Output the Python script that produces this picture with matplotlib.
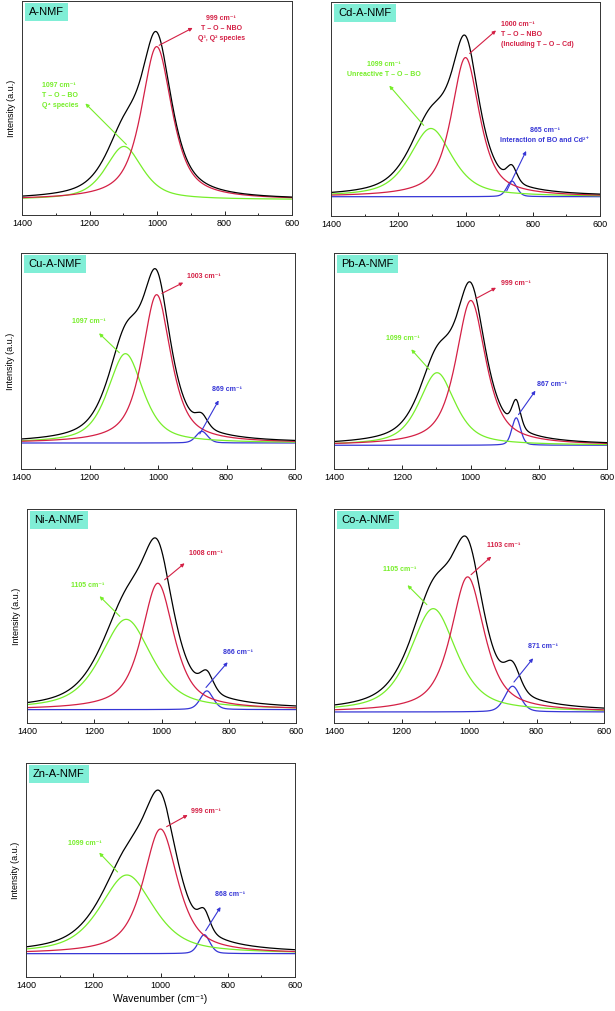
import matplotlib.pyplot as plt
import numpy as np

plt.rcParams['font.family'] = ['Liberation Sans', 'DejaVu Sans']

names = ["A-NMF", "Cd-A-NMF", "Cu-A-NMF", "Pb-A-NMF", "Ni-A-NMF", "Co-A-NMF", "Zn-A-NMF"]

# fitted bands: centre (cm-1), height (a.u.), FWHM (cm-1)
red_pos = [1001, 1000, 1004, 999, 1011, 1004, 1000]
red_amp = [4.60, 4.18, 4.45, 4.33, 3.78, 4.04, 3.74]
red_fwhm = [108, 100, 100, 105, 115, 118, 122]

green_pos = [1098, 1103, 1095, 1098, 1105, 1106, 1100]
green_amp = [1.60, 2.05, 2.68, 2.17, 2.70, 3.09, 2.36]
green_fwhm = [130, 150, 122, 125, 180, 162, 190]

blue_pos = [865, 862, 872, 866, 865, 871, 870]
blue_amp = [0.0, 0.47, 0.35, 0.82, 0.56, 0.77, 0.57]
blue_fwhm = [40, 35, 40, 30, 45, 54, 40]

red_note = ["999 cm⁻¹\nT – O – NBO\nQ³, Q² species",
            "1000 cm⁻¹\nT – O – NBO\n(Including T – O – Cd)",
            "1003 cm⁻¹", "999 cm⁻¹", "1008 cm⁻¹", "1103 cm⁻¹", "999 cm⁻¹"]
green_note = ["1097 cm⁻¹\nT – O – BO\nQ⁴ species",
              "1099 cm⁻¹\nUnreactive T – O – BO",
              "1097 cm⁻¹", "1099 cm⁻¹", "1105 cm⁻¹", "1105 cm⁻¹", "1099 cm⁻¹"]
blue_note = [None, "865 cm⁻¹\nInteraction of BO and Cd²⁺",
             "869 cm⁻¹", "867 cm⁻¹", "866 cm⁻¹", "871 cm⁻¹", "868 cm⁻¹"]

# annotation placement: text (x, y, ha), arrow tail, arrow head
red_txt = [(810, 5.15, 'center'), (895, 4.87, 'left'), (866, 4.98, 'center'), (868, 4.85, 'center'),
           (868, 4.66, 'center'), (897, 4.99, 'center'), (865, 4.27, 'center')]
red_arr = [((1001, 4.60), (887, 5.20)), ((994, 4.25), (903, 5.05)), ((996, 4.45), (919, 4.85)),
           ((991, 4.35), (918, 4.75)), ((997, 3.83), (925, 4.43)), ((1000, 4.05), (928, 4.70)),
           ((989, 3.77), (912, 4.20))]
green_txt = [(1342, 3.12, 'left'), (1242, 3.83, 'center'), (1202, 3.65, 'center'), (1197, 3.18, 'center'),
             (1219, 3.70, 'center'), (1205, 4.25, 'center'), (1224, 3.30, 'center')]
green_arr = [((1085, 1.60), (1218, 2.95)), ((1119, 2.08), (1232, 3.40)), ((1107, 2.65), (1178, 3.35)),
             ((1115, 2.20), (1179, 2.93)), ((1118, 2.73), (1190, 3.45)), ((1119, 3.15), (1188, 3.85)),
             ((1122, 2.39), (1188, 3.09))]
blue_txt = [None, (764, 1.85, 'center'), (799, 1.60, 'center'), (761, 1.83, 'center'),
            (773, 1.70, 'center'), (782, 1.95, 'center'), (794, 1.79, 'center')]
blue_arr = [None, ((881, 0.10), (816, 1.45)), ((882, 0.20), (819, 1.35)), ((864, 0.85), (805, 1.70)),
            ((873, 0.60), (798, 1.48)), ((872, 0.83), (805, 1.67)), ((870, 0.62), (817, 1.47))]

ylims = [(-0.46, 5.97), (-0.58, 5.85), (-0.78, 5.70), (-0.71, 5.75),
         (-0.40, 6.00), (-0.33, 6.07), (-0.70, 5.72)]

# axes boxes in pixels: left, top, right, bottom
boxes = [(22, 1, 292, 215), (331, 2, 600, 216), (21, 253, 295, 469), (334, 253, 607, 469),
         (27, 509, 296, 723), (334, 509, 604, 723), (26, 763, 295, 977)]

RED = '#d42045'
GREEN = '#77ee2a'
BLUE = '#3636d6'
W, H = 615, 1011


def band(x, c, a, w, eta):
    g = np.exp(-4 * np.log(2) * ((x - c) / w) ** 2)
    lo = 1 / (1 + ((x - c) / (w / 2)) ** 2)
    return a * (eta * lo + (1 - eta) * g)


x = np.linspace(600, 1400, 801)
fig = plt.figure(figsize=(W / 100, H / 100), dpi=100)

for i in range(7):
    l, t, r, b = boxes[i]
    ax = fig.add_axes([l / W, 1 - b / H, (r - l) / W, (b - t) / H])
    red = band(x, red_pos[i], red_amp[i], red_fwhm[i], 0.75)
    green = band(x, green_pos[i], green_amp[i], green_fwhm[i], 0.65)
    blue = band(x, blue_pos[i], blue_amp[i], blue_fwhm[i], 0.3)
    total = red + green + blue
    if blue_amp[i] > 0:
        ax.plot(x, blue, color=BLUE, lw=0.9)
    ax.plot(x, green, color=GREEN, lw=0.9)
    ax.plot(x, red, color=RED, lw=0.9)
    ax.plot(x, total, color='black', lw=0.9)

    ax.set_xlim(1400, 600)
    ax.set_ylim(*ylims[i])
    ax.set_xticks([1400, 1200, 1000, 800, 600])
    ax.set_xticks([1300, 1100, 900, 700], minor=True)
    ax.set_yticks([])
    ax.tick_params(axis='x', which='major', direction='in', length=3, width=0.6, labelsize=6.5, pad=3)
    ax.tick_params(axis='x', which='minor', direction='in', length=1.5, width=0.6)
    for s in ax.spines.values():
        s.set_linewidth(0.7)
        s.set_color('#333333')

    if boxes[i][0] < 100:
        ax.set_ylabel("Intensity (a.u.)", fontsize=6.5, labelpad=4)
    if i == 6:
        ax.set_xlabel("Wavenumber (cm⁻¹)", fontsize=7.5, labelpad=3)

    ax.text(0.026, 0.972, names[i], transform=ax.transAxes, fontsize=8, va='top', ha='left',
            bbox=dict(boxstyle='square,pad=0.4', fc='#80eed6', ec='none'))

    notes = [(red_note[i], red_txt[i], red_arr[i], RED),
             (green_note[i], green_txt[i], green_arr[i], GREEN),
             (blue_note[i], blue_txt[i], blue_arr[i], BLUE)]
    for txt, pos, arr, col in notes:
        if txt is None:
            continue
        ax.text(pos[0], pos[1], txt, color=col, fontsize=5, fontweight='bold',
                ha=pos[2], va='center', linespacing=1.6, multialignment=pos[2])
        ax.annotate('', xy=arr[1], xytext=arr[0],
                    arrowprops=dict(arrowstyle='-|>', color=col, lw=0.8, mutation_scale=5))

fig.savefig('out.png', dpi=100)
